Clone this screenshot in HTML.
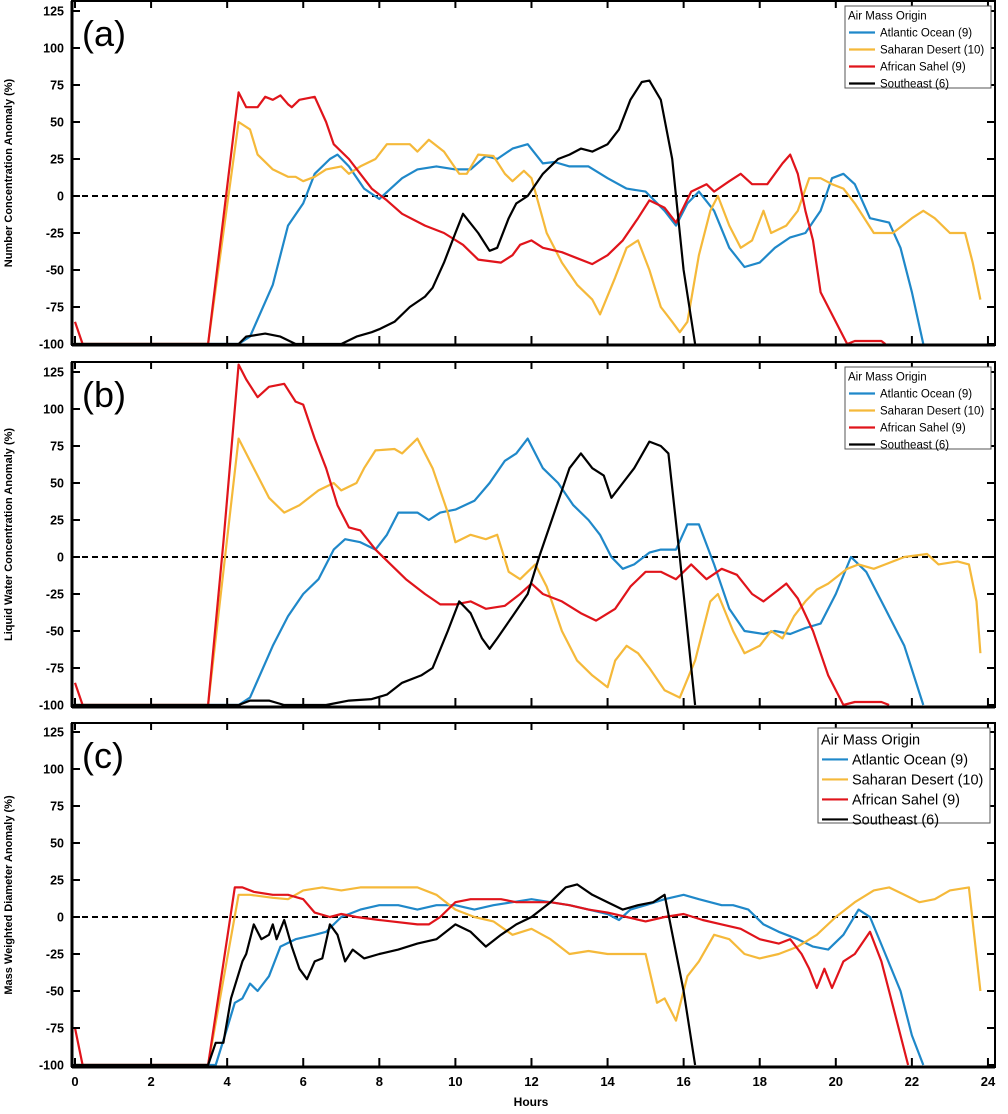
<!DOCTYPE html>
<html><head><meta charset="utf-8"><style>
body{margin:0;background:#fff;width:1008px;height:1114px;overflow:hidden}
svg{display:block;font-family:"Liberation Sans",sans-serif}
</style></head><body>
<svg id="chart" width="1008" height="1114" viewBox="0 0 1008 1114"></svg>
<script>
const xTicks=[0,2,4,6,8,10,12,14,16,18,20,22,24];
const yTicks=[125,100,75,50,25,0,-25,-50,-75,-100];
const panelLabels=["(a)","(b)","(c)"];
const yTitles=["Number Concentration Anomaly (%)","Liquid Water Concentration Anomaly (%)","Mass Weighted Diameter Anomaly (%)"];
const legendNames=["Atlantic Ocean (9)","Saharan Desert (10)","African Sahel (9)","Southeast (6)"];
const colors=["#1f88c9","#f5b93a","#e0141b","#000000"];

const aBlue=[[0,-100],[4.3,-100],[4.6,-95],[5.2,-60],[5.6,-20],[6,-5],[6.3,15],[6.7,25],[6.9,28],[7.2,20],[7.6,5],[8,-2],[8.3,5],[8.6,12],[9,18],[9.5,20],[10,18],[10.4,18],[10.8,27],[11.1,25],[11.5,32],[11.9,35],[12.3,22],[12.6,23],[13,20],[13.5,20],[14,12],[14.5,5],[15,3],[15.5,-10],[15.8,-20],[16.1,-5],[16.4,3],[16.8,-10],[17.2,-35],[17.6,-48],[18,-45],[18.4,-35],[18.8,-28],[19.2,-25],[19.6,-10],[19.9,12],[20.2,15],[20.5,8],[20.9,-15],[21.4,-18],[21.7,-35],[22,-65],[22.3,-100]];
const aOrange=[[0,-100],[3.5,-100],[4.3,50],[4.6,45],[4.8,28],[5.2,18],[5.6,13],[5.8,13],[6,10],[6.3,13],[6.6,18],[7,20],[7.2,15],[7.5,20],[7.9,25],[8.2,35],[8.6,35],[8.8,35],[9,30],[9.3,38],[9.7,30],[10.1,15],[10.3,15],[10.6,28],[11,27],[11.3,15],[11.5,10],[11.8,17],[12,12],[12.4,-25],[12.8,-45],[13.2,-60],[13.6,-70],[13.8,-80],[14.2,-55],[14.5,-35],[14.8,-30],[15.1,-50],[15.4,-75],[15.7,-85],[15.9,-92],[16.1,-85],[16.4,-40],[16.7,-10],[16.9,0],[17.2,-20],[17.5,-35],[17.8,-30],[18.1,-10],[18.3,-25],[18.7,-20],[19,-10],[19.3,12],[19.6,12],[19.9,8],[20.2,5],[20.5,-5],[21,-25],[21.5,-25],[22,-15],[22.3,-10],[22.6,-15],[23,-25],[23.4,-25],[23.6,-45],[23.8,-70]];
const aRed=[[0,-85],[0.2,-100],[3.5,-100],[4.3,70],[4.5,60],[4.8,60],[5,67],[5.2,65],[5.4,68],[5.6,62],[5.7,60],[5.9,65],[6.3,67],[6.6,50],[6.8,35],[7.2,25],[7.5,15],[7.8,5],[8.2,-3],[8.6,-12],[9.2,-20],[9.7,-25],[10.2,-33],[10.6,-43],[11.2,-45],[11.5,-40],[11.7,-33],[12,-30],[12.3,-35],[12.8,-38],[13.2,-42],[13.6,-46],[14,-40],[14.4,-30],[14.8,-15],[15.1,-3],[15.5,-8],[15.8,-18],[16.2,3],[16.6,8],[16.8,3],[17.2,10],[17.5,15],[17.8,8],[18.2,8],[18.6,22],[18.8,28],[19,15],[19.2,-10],[19.4,-30],[19.6,-65],[20.2,-95],[20.3,-100],[20.5,-98],[21.2,-98],[21.3,-100]];
const aBlack=[[0,-100],[4.3,-100],[4.5,-95],[5,-93],[5.4,-95],[5.8,-100],[7,-100],[7.4,-95],[7.8,-92],[8,-90],[8.4,-85],[8.8,-75],[9.2,-68],[9.4,-62],[9.7,-45],[10,-25],[10.2,-12],[10.6,-25],[10.9,-37],[11.1,-35],[11.4,-15],[11.6,-5],[11.9,0],[12.3,15],[12.7,25],[13,28],[13.3,32],[13.6,30],[14,35],[14.3,45],[14.6,65],[14.9,77],[15.1,78],[15.4,65],[15.7,25],[16,-50],[16.3,-100]];

const bBlue=[[0,-100],[4.3,-100],[4.6,-95],[5.2,-60],[5.6,-40],[6,-25],[6.4,-15],[6.8,5],[7.1,12],[7.5,10],[7.9,5],[8.2,15],[8.5,30],[9,30],[9.3,25],[9.6,30],[10,32],[10.5,38],[10.9,50],[11.3,65],[11.6,70],[11.9,80],[12.3,60],[12.7,50],[13.1,35],[13.5,25],[13.8,15],[14.1,0],[14.4,-8],[14.7,-5],[15.1,3],[15.4,5],[15.8,5],[16.1,22],[16.4,22],[16.8,-5],[17.2,-35],[17.6,-50],[18.1,-52],[18.4,-50],[18.8,-52],[19.2,-48],[19.6,-45],[20,-25],[20.4,0],[20.8,-10],[21.3,-35],[21.8,-60],[22.3,-100]];
const bOrange=[[0,-100],[3.5,-100],[4.3,80],[4.7,60],[5.1,40],[5.5,30],[5.9,35],[6.4,45],[6.8,50],[7,45],[7.4,50],[7.6,60],[7.9,72],[8.4,73],[8.6,70],[9,80],[9.4,60],[9.8,30],[10,10],[10.4,15],[10.8,12],[11.1,15],[11.4,-10],[11.7,-15],[12.1,-5],[12.4,-20],[12.8,-50],[13.2,-70],[13.6,-80],[14,-88],[14.2,-70],[14.5,-60],[14.8,-65],[15.1,-75],[15.5,-90],[15.9,-95],[16.3,-70],[16.7,-30],[16.9,-25],[17.3,-50],[17.6,-65],[18,-60],[18.3,-50],[18.6,-55],[18.9,-40],[19.2,-30],[19.5,-22],[19.8,-18],[20.3,-8],[20.6,-5],[21,-8],[21.3,-5],[21.8,0],[22.4,2],[22.7,-5],[23.2,-3],[23.5,-5],[23.7,-30],[23.8,-65]];
const bRed=[[0,-85],[0.2,-100],[3.5,-100],[3.9,10],[4.3,130],[4.5,120],[4.8,108],[5.1,115],[5.5,117],[5.8,105],[6,103],[6.3,80],[6.6,60],[6.9,35],[7.2,20],[7.5,18],[7.9,5],[8.3,-5],[8.7,-15],[9.2,-25],[9.6,-32],[10,-32],[10.4,-30],[10.8,-35],[11.3,-33],[11.7,-25],[12,-18],[12.3,-25],[12.8,-30],[13.3,-38],[13.7,-43],[14.2,-35],[14.6,-20],[15,-10],[15.4,-10],[15.8,-15],[16.2,-5],[16.6,-15],[17,-8],[17.4,-12],[17.8,-25],[18.1,-30],[18.5,-22],[18.7,-18],[19,-28],[19.4,-50],[19.8,-80],[20.2,-100],[20.5,-98],[21.2,-98],[21.4,-100]];
const bBlack=[[0,-100],[4.3,-100],[4.6,-97],[5.1,-97],[5.5,-100],[6.6,-100],[7.2,-97],[7.8,-96],[8.2,-93],[8.6,-85],[9.1,-80],[9.4,-75],[9.8,-50],[10.1,-30],[10.4,-38],[10.7,-55],[10.9,-62],[11.1,-55],[11.5,-40],[11.9,-25],[12.2,0],[12.6,30],[13,60],[13.3,70],[13.6,60],[13.9,55],[14.1,40],[14.4,50],[14.7,60],[15.1,78],[15.4,75],[15.6,70],[15.9,0],[16.3,-100]];

const cBlue=[[0,-100],[3.7,-100],[4,-75],[4.2,-58],[4.4,-55],[4.6,-45],[4.8,-50],[5.1,-40],[5.4,-20],[5.8,-15],[6.3,-12],[6.6,-10],[7,0],[7.5,5],[8,8],[8.5,8],[9,5],[9.5,8],[10,8],[10.5,5],[11,8],[11.5,10],[12,12],[12.5,10],[13,8],[13.5,5],[14,2],[14.3,-2],[14.6,5],[15,8],[15.5,12],[16,15],[16.4,12],[17,8],[17.3,8],[17.7,5],[18.1,-5],[18.5,-10],[19,-15],[19.4,-20],[19.8,-22],[20.2,-12],[20.6,5],[20.9,0],[21.3,-25],[21.7,-50],[22,-80],[22.3,-100]];
const cOrange=[[0,-100],[3.5,-100],[4.3,15],[4.6,15],[5.2,13],[5.6,12],[6,18],[6.5,20],[7,18],[7.5,20],[8,20],[8.5,20],[9,20],[9.5,15],[10,5],[10.5,0],[11,-3],[11.5,-12],[12,-8],[12.5,-15],[13,-25],[13.5,-23],[14,-25],[15,-25],[15.3,-58],[15.5,-55],[15.8,-70],[16.1,-40],[16.4,-30],[16.8,-12],[17.2,-15],[17.6,-25],[18,-28],[18.5,-25],[19,-20],[19.5,-12],[20,0],[20.5,10],[21,18],[21.4,20],[21.8,15],[22.2,10],[22.6,12],[23,18],[23.5,20],[23.8,-50]];
const cRed=[[0,-75],[0.2,-100],[3.5,-100],[4.2,20],[4.4,20],[4.7,17],[5.2,15],[5.6,15],[6,12],[6.3,3],[6.7,0],[7,2],[7.4,0],[8,-2],[9,-5],[9.3,-5],[9.6,0],[10,10],[10.4,12],[11.2,12],[11.6,10],[12,10],[12.5,10],[13,8],[13.5,5],[14,3],[14.5,0],[15,-3],[15.5,0],[16,2],[16.5,-2],[17,-5],[17.5,-8],[18,-15],[18.5,-18],[18.8,-15],[19.1,-25],[19.3,-35],[19.5,-48],[19.7,-35],[19.9,-48],[20.2,-30],[20.5,-25],[20.9,-10],[21.2,-30],[21.5,-60],[21.9,-100]];
const cBlack=[[0,-100],[3.5,-100],[3.7,-85],[3.9,-85],[4.1,-55],[4.4,-30],[4.5,-25],[4.7,-5],[4.9,-15],[5.1,-12],[5.2,-5],[5.3,-15],[5.5,-2],[5.7,-20],[5.9,-35],[6.1,-42],[6.3,-30],[6.5,-28],[6.7,-5],[6.9,-12],[7.1,-30],[7.3,-22],[7.6,-28],[8,-25],[8.5,-22],[9,-18],[9.5,-15],[10,-5],[10.4,-10],[10.8,-20],[11.2,-12],[11.6,-5],[12,0],[12.5,10],[12.9,20],[13.2,22],[13.6,15],[14,10],[14.4,5],[14.8,8],[15.2,10],[15.5,15],[16,-50],[16.3,-100]];

const panelSeries=[[aBlue,aOrange,aRed,aBlack],[bBlue,bOrange,bRed,bBlack],[cBlue,cOrange,cRed,cBlack]];
const panels=[{top:1,bottom:345,zero:196},{top:362,bottom:707,zero:557},{top:723,bottom:1067,zero:917}];
const X0=75,XS=38.04,YS=1.48,LEFT=72,RIGHT=995;
const NS="http://www.w3.org/2000/svg";
const svg=document.getElementById('chart');
function mk(tag,attrs,parent){const e=document.createElementNS(NS,tag);for(const k in attrs)e.setAttribute(k,attrs[k]);(parent||svg).appendChild(e);return e;}
const xScale=h=>X0+h*XS;
panels.forEach((p,pi)=>{
  const yScale=v=>p.zero-v*YS;
  const g=mk('g',{});
  
  
  const cp=mk('clipPath',{id:'cp'+pi},g);
  mk('rect',{x:LEFT,y:p.top,width:RIGHT-LEFT,height:p.bottom-p.top},cp);
  const z=mk('line',{x1:LEFT,x2:RIGHT,y1:yScale(0),y2:yScale(0),stroke:'#000','stroke-width':2,'stroke-dasharray':'6,4'},g);
  
  
  panelSeries[pi].forEach((s,si)=>{
    const d=s.map((pt,i)=>(i?'L':'M')+xScale(pt[0]).toFixed(1)+','+yScale(pt[1]).toFixed(1)).join('');
    const path=mk('path',{d:d,fill:'none',stroke:colors[si],'stroke-width':2.2,'stroke-linejoin':'round','clip-path':'url(#cp'+pi+')'},g);
    
    
  });
  const fr=mk('rect',{x:LEFT,y:p.top,width:RIGHT-LEFT,height:p.bottom-p.top,fill:'none',stroke:'#000','stroke-width':2},g);
  
  
  mk('line',{x1:LEFT,x2:RIGHT,y1:p.bottom,y2:p.bottom,stroke:'#000','stroke-width':3},g);
  mk('line',{x1:LEFT,x2:LEFT,y1:p.top,y2:p.bottom,stroke:'#000','stroke-width':3},g);
  xTicks.forEach(t=>{
    const x=xScale(t);
    mk('line',{x1:x,x2:x,y1:p.bottom,y2:p.bottom-9,stroke:'#000','stroke-width':2},g);
    mk('line',{x1:x,x2:x,y1:p.top,y2:p.top+7,stroke:'#000','stroke-width':2},g);
    if(pi===2){const tx=mk('text',{x:x,y:p.bottom+19,'text-anchor':'middle','font-size':13,'font-weight':'bold'},g);tx.textContent=t;
      
      }
  });
  yTicks.forEach(t=>{
    const y=yScale(t);
    mk('line',{x1:LEFT,x2:LEFT+8,y1:y,y2:y,stroke:'#000','stroke-width':2},g);
    mk('line',{x1:RIGHT,x2:RIGHT-8,y1:y,y2:y,stroke:'#000','stroke-width':2},g);
    const tx=mk('text',{x:LEFT-8,y:y+4.5,'text-anchor':'end','font-size':12.5,'font-weight':'bold'},g);tx.textContent=t;
    
    
  });
  const yt=mk('text',{x:0,y:0,transform:`translate(12,${(p.top+p.bottom)/2}) rotate(-90)`,'text-anchor':'middle','font-size':11,'font-weight':'bold'},g);
  yt.textContent=yTitles[pi];
  
  
  const pl=mk('text',{x:82,y:p.top+45,'font-size':36},g);
  pl.textContent=panelLabels[pi];
  
  
  const big=pi===2;
  const lx=big?818:845, ly=p.top+5, lw=big?172:146, lh=big?95:82, fs=big?14.5:11.5, rh=big?20:17;
  const lg=mk('g',{},g);
  
  
  mk('rect',{x:lx,y:ly,width:lw,height:lh,fill:'#fff',stroke:'#555','stroke-width':1},lg);
  const lt=mk('text',{x:lx+3,y:ly+fs+2,'font-size':fs},lg);lt.textContent='Air Mass Origin';
  legendNames.forEach((n,i)=>{
    const yy=ly+fs+2+rh*(i+1);
    const e=mk('g',{},lg);
    
    
    mk('line',{x1:lx+4,x2:lx+(big?30:30),y1:yy-fs*0.35,y2:yy-fs*0.35,stroke:colors[i],'stroke-width':2.2},e);
    const t=mk('text',{x:lx+(big?34:35),y:yy,'font-size':fs},e);t.textContent=n;
  });
});
const xl=mk('text',{x:531,y:1106,'text-anchor':'middle','font-size':12,'font-weight':'bold'});
xl.textContent='Hours';


</script>
</body></html>
